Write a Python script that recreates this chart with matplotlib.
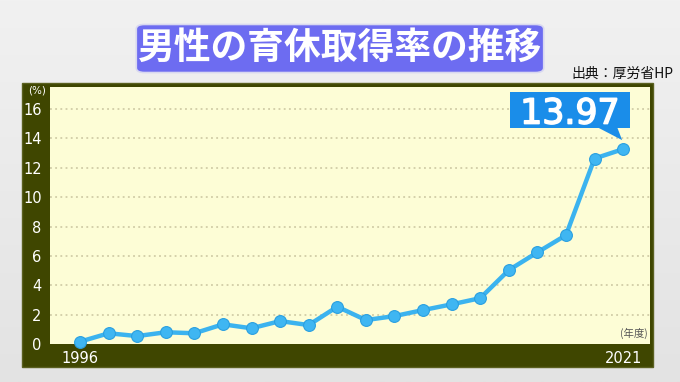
import matplotlib
matplotlib.use("Agg")
import matplotlib.pyplot as plt
import numpy as np
from matplotlib.patches import FancyBboxPatch, Rectangle, Polygon
from matplotlib.transforms import IdentityTransform
from matplotlib.colors import LinearSegmentedColormap
import matplotlib.patheffects as pe

# ---- data ----
years = [1996, 1999, 2002, 2004, 2005, 2007, 2008, 2009, 2010, 2011,
         2012, 2013, 2014, 2015, 2016, 2017, 2018, 2019, 2020, 2021]
rates = [0.16, 0.73, 0.54, 0.80, 0.73, 1.34, 1.07, 1.56, 1.29, 2.54,
         1.63, 1.90, 2.31, 2.70, 3.12, 5.03, 6.24, 7.41, 12.63, 13.27]
yticks = [0, 2, 4, 6, 8, 10, 12, 14, 16]
xlabels_shown = ["1996", "2021"]
title = "男性の育休取得率の推移"
source = "出典：厚労省HP"
callout = "13.97"

W, H = 680, 382
fig = plt.figure(figsize=(W / 100, H / 100), dpi=100)
JP = ["Noto Sans CJK JP", "DejaVu Sans"]

# background gradient
bg = fig.add_axes([0, 0, 1, 1], zorder=-10)
grad = np.linspace(0, 1, 256).reshape(-1, 1)
cm = LinearSegmentedColormap.from_list("g", ["#f1f1f1", "#e3e3e3"])
bg.imshow(grad, aspect="auto", cmap=cm, extent=[0, 1, 0, 1])
bg.axis("off")

def fx(px):
    return px / W

def fy(py):  # top-down pixel -> figure fraction
    return 1 - py / H

# dark olive frame
frame = Rectangle((fx(22), fy(367)), fx(653 - 22), (367 - 83) / H,
                  transform=fig.transFigure, facecolor="#3f4600",
                  edgecolor="#5a6020", lw=1, zorder=0)
fig.add_artist(frame)

ax = fig.add_axes([fx(50), fy(344), fx(600), (344 - 87) / H], zorder=1)
ax.set_facecolor("#fdfdd6")
x = np.arange(len(years))
ax.set_xlim(-1.05, 19.94)
ax.set_ylim(0, 17.5)
for s in ax.spines.values():
    s.set_visible(False)
ax.set_yticks(yticks)
ax.set_yticklabels([str(v) for v in yticks], color="white", fontsize=10.5,
                   family="DejaVu Sans")
ax.tick_params(axis="y", length=0, pad=6)
ax.set_xticks([0, len(years) - 1])
ax.set_xticklabels(xlabels_shown, color="white", fontsize=10.5)
ax.tick_params(axis="x", length=0, pad=5)
for v in yticks[1:]:
    ax.axhline(v, color="#c9c49e", lw=1.1, ls=(0, (1.2, 2.2)), zorder=1)

ax.plot(x, rates, color="#3bb3ef", lw=3.2, zorder=3,
        marker="o", markersize=8.5, markerfacecolor="#3fb6f2",
        markeredgecolor="#2a9fe0", markeredgewidth=0.8, clip_on=False)

ax.text(-1.05 - 0.15, 17.25, "(%)", color="white", fontsize=7.5,
        ha="right", va="center", transform=ax.transData)
ax.text(19.85, 0.35, "(年度)", color="#555555", fontsize=7.5,
        ha="right", va="bottom", family=JP)

# title box
tb = FancyBboxPatch((fx(139), fy(71)), fx(402), (71 - 26) / H,
                    boxstyle="round,pad=0.004,rounding_size=0.012",
                    transform=fig.transFigure, facecolor="#6d6cf1",
                    edgecolor="#d8d8f0", lw=1.2, zorder=5)
fig.add_artist(tb)
fig.text(fx(340), fy(48), title, color="white", fontsize=26.5,
         fontweight="bold", family=JP, ha="center", va="center", zorder=6)
fig.text(fx(673), fy(74), source, color="#111111", fontsize=10,
         family=JP, ha="right", va="center", zorder=6)

# callout
fig.canvas.draw()
tx, ty = ax.transData.transform((x[-1], rates[-1]))
bx0, bx1 = tx - 113, tx + 7
by0, by1 = ty + 21, ty + 57
box = Rectangle((bx0, by0), bx1 - bx0, by1 - by0, transform=IdentityTransform(),
                facecolor="#1a8de9", edgecolor="none", zorder=7)
tail = Polygon([(tx - 26, by0 + 1), (tx - 6, by0 + 1), (tx - 1, ty + 9)],
               closed=True, transform=IdentityTransform(),
               facecolor="#1a8de9", edgecolor="none", zorder=7)
fig.add_artist(box)
fig.add_artist(tail)
fig.text((bx0 + bx1) / 2 / W, (by0 + by1) / 2 / H, callout, color="white",
         fontsize=25, family="DejaVu Sans", ha="center", va="center_baseline",
         zorder=8,
         path_effects=[pe.withStroke(linewidth=1.1, foreground="white")])

fig.savefig("out.png", dpi=100)
